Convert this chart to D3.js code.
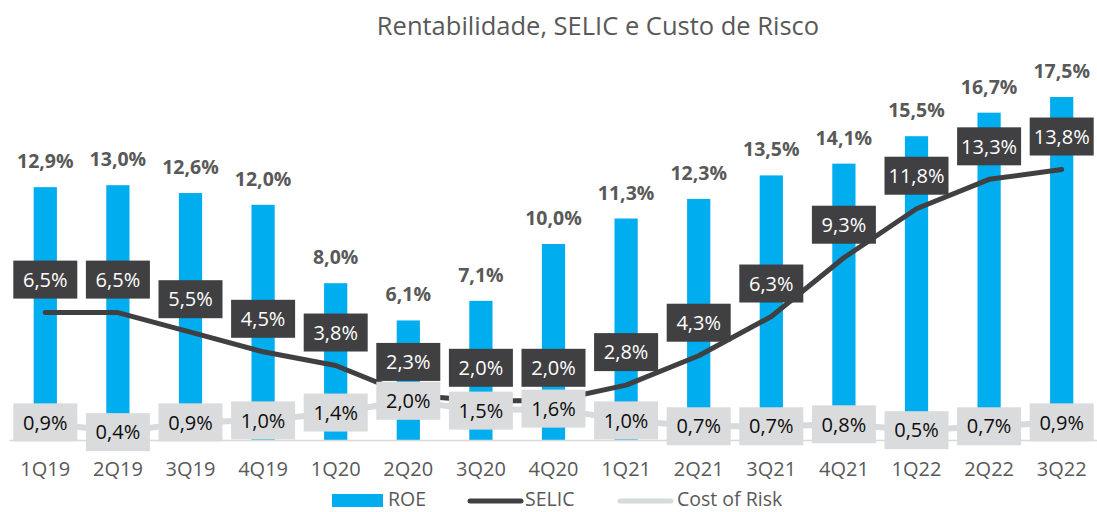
<!DOCTYPE html>
<html>
<head>
<meta charset="utf-8">
<script src="https://cdn.jsdelivr.net/npm/d3@7"></script>
<style>
  body { margin: 0; background: #fff; }
  svg { display: block; font-family: "Open Sans", sans-serif; }
</style>
</head>
<body>
<div id="chart"></div>
<script>
let categories = ["1Q19", "2Q19", "3Q19", "4Q19", "1Q20", "2Q20", "3Q20", "4Q20",
                  "1Q21", "2Q21", "3Q21", "4Q21", "1Q22", "2Q22", "3Q22"];
let roe = [12.9, 13.0, 12.6, 12.0, 8.0, 6.1, 7.1, 10.0, 11.3, 12.3, 13.5, 14.1, 15.5, 16.7, 17.5];
let selic = [6.5, 6.5, 5.5, 4.5, 3.8, 2.3, 2.0, 2.0, 2.8, 4.3, 6.3, 9.3, 11.8, 13.3, 13.8];
let costOfRisk = [0.9, 0.4, 0.9, 1.0, 1.4, 2.0, 1.5, 1.6, 1.0, 0.7, 0.7, 0.8, 0.5, 0.7, 0.9];
let legendNames = ["ROE", "SELIC", "Cost of Risk"];

let width = 1097, height = 512;
let fmt = v => v.toFixed(1).replace(".", ",") + "%";

let svg = d3.select("#chart").append("svg")
    .attr("width", width)
    .attr("height", height);

let x = d3.scaleBand()
    .domain(categories)
    .range([9, 1098])
    .paddingInner(0.68)
    .paddingOuter(0.34);
let cx = c => x(c) + x.bandwidth() / 2;

let y = d3.scaleLinear()
    .domain([0, 20])
    .range([440, 48]);

// title
svg.append("text")
    .attr("x", 598).attr("y", 35)
    .attr("text-anchor", "middle")
    .attr("font-size", 25.5)
    .attr("fill", "#595959")
    .text("Rentabilidade, SELIC e Custo de Risco");

// bars
svg.append("g").selectAll("rect")
    .data(roe)
    .join("rect")
    .attr("x", (d, i) => x(categories[i]))
    .attr("y", d => y(d))
    .attr("width", x.bandwidth())
    .attr("height", d => y(0) - y(d))
    .attr("fill", "#00AEEF");

// axis
let xAxis = g => g
    .attr("transform", `translate(0, ${y(0)})`)
    .call(d3.axisBottom(x).tickSize(0).tickPadding(22))
    .call(g => g.select(".domain").attr("stroke", "#D9D9D9").attr("stroke-width", 1.5))
    .call(g => g.selectAll("text")
        .attr("font-size", 20)
        .attr("font-family", "Open Sans, sans-serif")
        .attr("fill", "#595959"));
svg.append("g").call(xAxis);

let line = d3.line()
    .x((d, i) => cx(categories[i]))
    .y(d => y(d));

svg.append("path")
    .datum(costOfRisk)
    .attr("fill", "none")
    .attr("stroke", "#D5DADA")
    .attr("stroke-width", 6)
    .attr("stroke-linejoin", "round")
    .attr("stroke-linecap", "round")
    .attr("d", line);

svg.append("path")
    .datum(selic)
    .attr("fill", "none")
    .attr("stroke", "#404042")
    .attr("stroke-width", 5)
    .attr("stroke-linejoin", "round")
    .attr("stroke-linecap", "round")
    .attr("d", line);

// ROE labels
svg.append("g").selectAll("text")
    .data(roe)
    .join("text")
    .attr("x", (d, i) => cx(categories[i]))
    .attr("y", d => y(d) - 19)
    .attr("text-anchor", "middle")
    .attr("font-size", 19.5)
    .attr("font-weight", "bold")
    .attr("fill", "#595959")
    .text(fmt);

let boxW = 64, boxH = 38;

// SELIC labels
let selG = svg.append("g").selectAll("g")
    .data(selic)
    .join("g")
    .attr("transform", (d, i) => `translate(${cx(categories[i])}, ${y(d) - 33})`);
selG.append("rect")
    .attr("x", -boxW / 2).attr("y", -boxH / 2)
    .attr("width", boxW).attr("height", boxH)
    .attr("fill", "#404042");
selG.append("text")
    .attr("text-anchor", "middle")
    .attr("dy", "0.36em")
    .attr("font-size", 20)
    .attr("fill", "#fff")
    .text(fmt);

// Cost of risk labels
let corG = svg.append("g").selectAll("g")
    .data(costOfRisk)
    .join("g")
    .attr("transform", (d, i) => `translate(${cx(categories[i])}, ${y(d)})`);
corG.append("rect")
    .attr("x", -boxW / 2).attr("y", -boxH / 2)
    .attr("width", boxW).attr("height", boxH)
    .attr("fill", "#DADBDC");
corG.append("text")
    .attr("text-anchor", "middle")
    .attr("dy", "0.36em")
    .attr("font-size", 20)
    .attr("fill", "#0D0D0D")
    .text(fmt);

// legend
let leg = svg.append("g");
leg.append("rect")
    .attr("x", 332).attr("y", 494)
    .attr("width", 51).attr("height", 13)
    .attr("fill", "#00AEEF");
leg.append("line")
    .attr("x1", 470).attr("x2", 521).attr("y1", 501).attr("y2", 501)
    .attr("stroke", "#404042").attr("stroke-width", 5).attr("stroke-linecap", "round");
leg.append("line")
    .attr("x1", 620).attr("x2", 671).attr("y1", 501).attr("y2", 501)
    .attr("stroke", "#D5DADA").attr("stroke-width", 5).attr("stroke-linecap", "round");
leg.selectAll("text")
    .data(legendNames)
    .join("text")
    .attr("x", (d, i) => [388, 525, 677][i])
    .attr("y", 506)
    .attr("font-size", 19.5)
    .attr("fill", "#595959")
    .text(d => d);
</script>
</body>
</html>
